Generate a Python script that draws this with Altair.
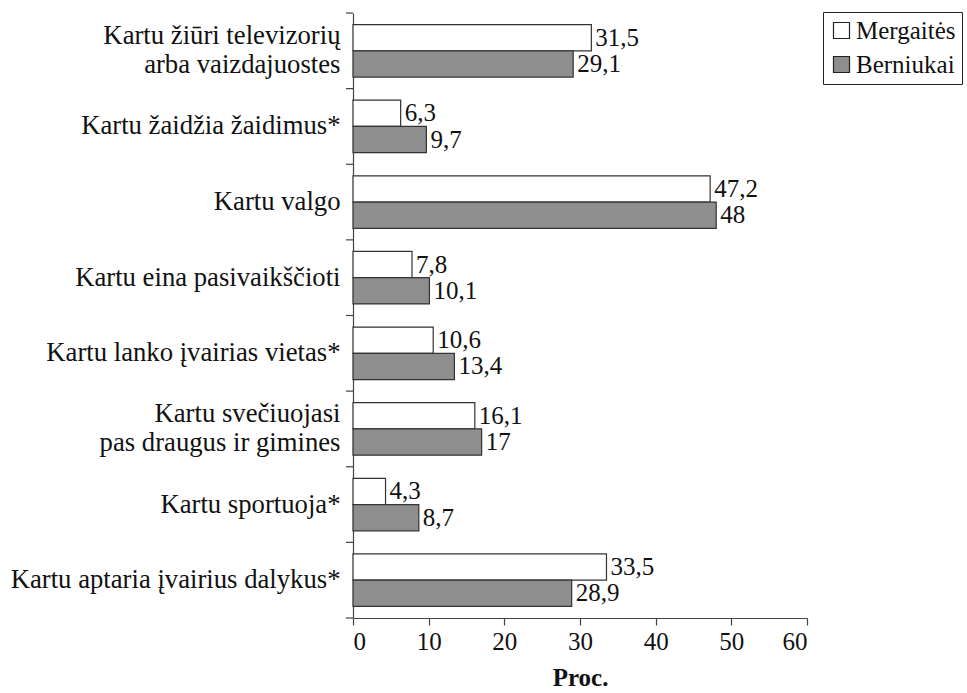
import altair as alt
import pandas as pd

categories = [
    "Kartu žiūri televizorių\narba vaizdajuostes",
    "Kartu žaidžia žaidimus*",
    "Kartu valgo",
    "Kartu eina pasivaikščioti",
    "Kartu lanko įvairias vietas*",
    "Kartu svečiuojasi\npas draugus ir gimines",
    "Kartu sportuoja*",
    "Kartu aptaria įvairius dalykus*",
]
series = ["Mergaitės", "Berniukai"]
girls = [31.5, 6.3, 47.2, 7.8, 10.6, 16.1, 4.3, 33.5]
boys = [29.1, 9.7, 48, 10.1, 13.4, 17, 8.7, 28.9]
x_ticks = [0, 10, 20, 30, 40, 50, 60]

rows = []
for c, g, b in zip(categories, girls, boys):
    rows.append({"cat": c, "series": series[0], "value": g})
    rows.append({"cat": c, "series": series[1], "value": b})
df = pd.DataFrame(rows)
cat_df = pd.DataFrame({"cat": categories})

FONT = "Liberation Serif"
W, H = 454, 605

yscale = alt.Scale(domain=categories, paddingInner=0, paddingOuter=0)
xscale = alt.Scale(domain=[0, 60], nice=False)
offscale = alt.Scale(domain=series, paddingInner=0, paddingOuter=0.44)

xaxis = alt.Axis(values=x_ticks, title="Proc.", grid=False, titleFontWeight="bold",
                 titlePadding=11, tickSize=7, labelPadding=4, labelFontSize=25)
yaxis = alt.Axis(title=None, ticks=False, labelPadding=13, labelLimit=400,
                 labelFontSize=26.7, labelLineHeight=29,
                 labelOffset={"condition": {"test": "indexof(datum.label, '\\n') >= 0",
                                            "value": -14.5}, "value": 0},
                 labelExpr="split(datum.label, '\\n')")

bars = alt.Chart(df).mark_bar(stroke="#333333", strokeWidth=1.2).encode(
    x=alt.X("value:Q", scale=xscale, axis=xaxis),
    y=alt.Y("cat:N", sort=categories, scale=yscale, axis=yaxis),
    yOffset=alt.YOffset("series:N", sort=series, scale=offscale),
    fill=alt.Fill("series:N", sort=series,
                  scale=alt.Scale(domain=series, range=["#ffffff", "#8e8e8e"]),
                  legend=alt.Legend(title=None, orient="none", legendX=470, legendY=-1,
                                    symbolType="square", symbolSize=256,
                                    symbolStrokeColor="#222", symbolStrokeWidth=1.2,
                                    strokeColor="#222", padding=6, rowPadding=8,
                                    labelOffset=2, fillColor="white")),
)

labels = alt.Chart(df).transform_calculate(
    lbl="replace(toString(datum.value), '.', ',')"
).mark_text(align="left", baseline="middle", dx=4, font=FONT, fontSize=25,
            color="#111").encode(
    x=alt.X("value:Q", scale=xscale, axis=xaxis),
    y=alt.Y("cat:N", sort=categories, scale=yscale, axis=yaxis),
    yOffset=alt.YOffset("series:N", sort=series, scale=offscale),
    text="lbl:N",
)

ticks = alt.Chart(cat_df).mark_rule(color="#444", strokeWidth=1.2).encode(
    y=alt.Y("cat:N", sort=categories, scale=yscale, axis=yaxis, bandPosition=0),
    x=alt.value(-7),
    x2=alt.value(0),
)
bottom_tick = alt.Chart(cat_df.head(1)).mark_rule(color="#444", strokeWidth=1.2).encode(
    y=alt.value(H), x=alt.value(-7), x2=alt.value(0)
)

chart = alt.layer(bars, labels, ticks, bottom_tick).properties(
    width=W, height=H,
    autosize=alt.AutoSizeParams(type="none"),
    padding={"left": 353, "top": 13, "right": 160, "bottom": 75},
    background="white",
).configure_view(stroke=None).configure_axis(
    labelFont=FONT, labelColor="#111",
    titleFont=FONT, titleFontSize=25, titleColor="#111",
    domainColor="#444", tickColor="#444", domainWidth=1.2, tickWidth=1.2,
).configure_legend(
    labelFont=FONT, labelFontSize=25, labelColor="#111",
)

chart.save("out.html", embed_options={"renderer": "svg", "actions": False})
